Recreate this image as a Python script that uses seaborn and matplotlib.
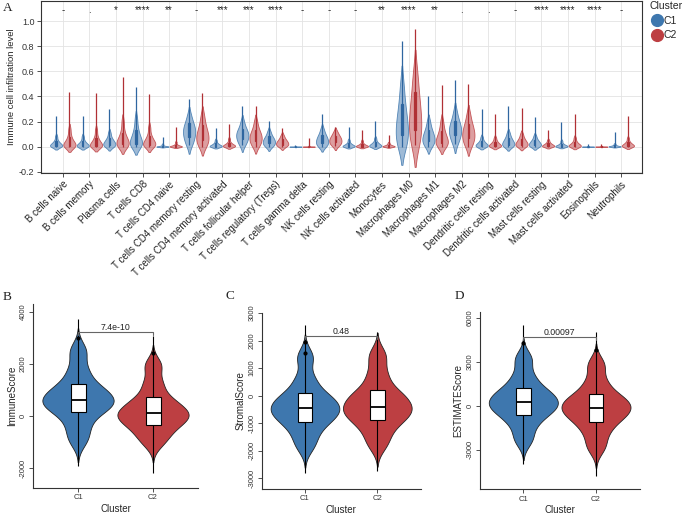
import numpy as np
import pandas as pd
import matplotlib
matplotlib.use("Agg")
import matplotlib.pyplot as plt
import matplotlib.colors as mcolors
from matplotlib.lines import Line2D
import seaborn as sns

# ---------------- data: panel A ----------------
cell_types = [
    "B cells naive", "B cells memory", "Plasma cells", "T cells CD8",
    "T cells CD4 naive", "T cells CD4 memory resting",
    "T cells CD4 memory activated", "T cells follicular helper",
    "T cells regulatory (Tregs)", "T cells gamma delta", "NK cells resting",
    "NK cells activated", "Monocytes", "Macrophages M0", "Macrophages M1",
    "Macrophages M2", "Dendritic cells resting", "Dendritic cells activated",
    "Mast cells resting", "Mast cells activated", "Eosinophils", "Neutrophils",
]
signif = ["-", ".", "*", "****", "**", "-", "***", "***", "****", "-", "-",
          "-", "**", "****", "**", ".", ".", "-", "****", "****", "****", "-"]

# bulk of each distribution (quantile-like values)
a_c1_bulk = [
    [0, 0, 0.003, 0.007, 0.012, 0.018, 0.025, 0.035, 0.05, 0.08],
    [0, 0, 0.002, 0.006, 0.01, 0.016, 0.024, 0.034, 0.05, 0.08],
    [0, 0.004, 0.01, 0.017, 0.025, 0.033, 0.043, 0.056, 0.075, 0.11],
    [0, 0.006, 0.016, 0.028, 0.042, 0.058, 0.08, 0.11, 0.15, 0.22],
    [0, 0, 0, 0, 0, 0, 0.002, 0.005, 0.01, 0.02],
    [0.01, 0.04, 0.07, 0.09, 0.11, 0.13, 0.15, 0.17, 0.2, 0.25],
    [0, 0, 0, 0.002, 0.005, 0.009, 0.014, 0.02, 0.03, 0.05],
    [0.01, 0.035, 0.055, 0.07, 0.085, 0.1, 0.115, 0.13, 0.155, 0.2],
    [0, 0.01, 0.02, 0.03, 0.04, 0.05, 0.06, 0.072, 0.09, 0.12],
    [0, 0, 0, 0, 0, 0, 0, 0, 0.001, 0.003],
    [0, 0.01, 0.022, 0.033, 0.045, 0.057, 0.07, 0.085, 0.105, 0.14],
    [0, 0, 0, 0.002, 0.005, 0.009, 0.014, 0.02, 0.03, 0.05],
    [0, 0, 0.002, 0.005, 0.009, 0.014, 0.02, 0.028, 0.04, 0.065],
    [0, 0.03, 0.07, 0.11, 0.15, 0.19, 0.24, 0.3, 0.38, 0.5],
    [0, 0.02, 0.035, 0.05, 0.065, 0.08, 0.1, 0.12, 0.15, 0.2],
    [0.02, 0.06, 0.085, 0.105, 0.125, 0.145, 0.165, 0.19, 0.22, 0.28],
    [0, 0, 0.003, 0.008, 0.013, 0.019, 0.026, 0.035, 0.05, 0.075],
    [0, 0.004, 0.011, 0.019, 0.028, 0.037, 0.048, 0.062, 0.08, 0.11],
    [0, 0.002, 0.008, 0.014, 0.021, 0.028, 0.036, 0.046, 0.06, 0.085],
    [0, 0, 0, 0.002, 0.004, 0.007, 0.011, 0.017, 0.026, 0.045],
    [0, 0, 0, 0, 0, 0, 0, 0, 0.001, 0.003],
    [0, 0, 0, 0, 0.001, 0.003, 0.005, 0.008, 0.013, 0.022],
]
a_c1_max = [0.245, 0.245, 0.297, 0.476, 0.08, 0.38, 0.147, 0.32, 0.208, 0.016,
            0.26, 0.155, 0.208, 0.84, 0.40, 0.53, 0.30, 0.32, 0.234, 0.2,
            0.02, 0.116]

a_c2_bulk = [
    [0, 0, 0.004, 0.01, 0.018, 0.028, 0.04, 0.06, 0.09, 0.14],
    [0, 0, 0.003, 0.008, 0.015, 0.025, 0.038, 0.055, 0.08, 0.13],
    [0, 0.005, 0.014, 0.024, 0.035, 0.048, 0.065, 0.09, 0.13, 0.2],
    [0, 0.004, 0.01, 0.018, 0.027, 0.037, 0.05, 0.068, 0.095, 0.15],
    [0, 0, 0, 0, 0, 0.002, 0.005, 0.01, 0.018, 0.035],
    [0, 0.02, 0.04, 0.06, 0.08, 0.1, 0.12, 0.15, 0.19, 0.25],
    [0, 0, 0.002, 0.004, 0.007, 0.011, 0.016, 0.023, 0.035, 0.06],
    [0, 0.02, 0.038, 0.055, 0.07, 0.085, 0.1, 0.12, 0.15, 0.2],
    [0, 0.006, 0.013, 0.02, 0.027, 0.035, 0.043, 0.053, 0.067, 0.09],
    [0, 0, 0, 0, 0, 0, 0, 0, 0.002, 0.006],
    [0.005, 0.018, 0.028, 0.038, 0.048, 0.058, 0.068, 0.08, 0.095, 0.12],
    [0, 0, 0, 0.002, 0.004, 0.007, 0.011, 0.017, 0.026, 0.045],
    [0, 0, 0, 0.001, 0.003, 0.005, 0.008, 0.012, 0.018, 0.03],
    [0.01, 0.06, 0.11, 0.16, 0.21, 0.26, 0.32, 0.39, 0.48, 0.6],
    [0, 0.01, 0.022, 0.035, 0.05, 0.065, 0.085, 0.11, 0.145, 0.2],
    [0, 0.03, 0.055, 0.075, 0.095, 0.115, 0.14, 0.165, 0.2, 0.26],
    [0, 0, 0.002, 0.006, 0.011, 0.017, 0.024, 0.033, 0.047, 0.07],
    [0, 0.004, 0.01, 0.017, 0.025, 0.033, 0.043, 0.055, 0.072, 0.1],
    [0, 0, 0.002, 0.005, 0.008, 0.012, 0.017, 0.023, 0.032, 0.05],
    [0, 0, 0.002, 0.005, 0.009, 0.014, 0.021, 0.03, 0.045, 0.07],
    [0, 0, 0, 0, 0, 0, 0, 0.001, 0.002, 0.004],
    [0, 0, 0.002, 0.005, 0.009, 0.014, 0.02, 0.028, 0.04, 0.065],
]
a_c2_max = [0.437, 0.424, 0.555, 0.418, 0.16, 0.43, 0.18, 0.324, 0.147, 0.068,
            0.16, 0.134, 0.095, 0.94, 0.49, 0.50, 0.26, 0.31, 0.134, 0.26,
            0.024, 0.247]

# ---------------- data: panels B-D ----------------
# bulk quantiles (violin body) and extreme values (whisker ends)
immune_c1 = [-900, -350, 140, 320, 480, 620, 780, 980, 1220, 1750, 2500]
immune_c2 = [-1000, -620, -350, -150, -10, 100, 260, 470, 720, 1250, 1950]
immune_ext_c1 = [-1930, 3730]
immune_ext_c2 = [-2190, 3060]
immune_out_c1 = [3000]
immune_out_c2 = [2420]

stromal_c1 = [-1800, -1300, -950, -760, -600, -450, -290, -100, 100, 600, 1400]
stromal_c2 = [-1750, -1250, -900, -720, -560, -400, -220, 0, 200, 750, 1450]
stromal_ext_c1 = [-2800, 2550]
stromal_ext_c2 = [-2750, 2300]
stromal_out_c1 = [1950, 1550]
stromal_out_c2 = []

estimate_c1 = [-2300, -1300, -650, -300, -20, 230, 520, 850, 1200, 2000, 3200]
estimate_c2 = [-2800, -1800, -1110, -700, -400, -140, 150, 450, 780, 1600, 2800]
estimate_ext_c1 = [-3950, 5470]
estimate_ext_c2 = [-4800, 5000]
estimate_out_c1 = [4300]
estimate_out_c2 = [3800]

p_values = ["7.4e-10", "0.48", "0.00097"]
clusters = ["C1", "C2"]

# ---------------- style ----------------
BLUE = "#3E77AE"
RED = "#BD3F42"
DARK = {"C1": "#2F66A0", "C2": "#B03035"}
PAL = {"C1": BLUE, "C2": RED}

sns.set_theme(style="white")
plt.rcParams["font.family"] = ["Liberation Sans", "DejaVu Sans"]
plt.rcParams["axes.unicode_minus"] = False

W, H = 685, 515
fig = plt.figure(figsize=(W / 100, H / 100), dpi=100)


def rect(l, r, t, b):
    return [l / W, 1 - b / H, (r - l) / W, (b - t) / H]


# ---------------- panel A ----------------
rows = []
for i, ct in enumerate(cell_types):
    for cl, bulk, mx in (("C1", a_c1_bulk[i], a_c1_max[i]),
                         ("C2", a_c2_bulk[i], a_c2_max[i])):
        for v in bulk:
            rows.append((ct, cl, v, "bulk"))
        rows.append((ct, cl, mx, "tail"))
dfA = pd.DataFrame(rows, columns=["cell", "Cluster", "value", "part"])

axA = fig.add_axes(rect(40.7, 642, 1, 173))
for cl in clusters:
    sub = dfA[dfA.Cluster == cl]
    n0 = len(axA.collections)
    sns.violinplot(data=sub[sub.part == "bulk"], x="cell", y="value",
                   hue="Cluster", hue_order=clusters, order=cell_types,
                   palette=PAL, dodge=True, width=1.0, gap=0.08,
                   density_norm="width", cut=1.6, bw_adjust=0.9, inner=None,
                   linecolor=PAL[cl], linewidth=0.6, saturation=1,
                   legend=False, ax=axA)
    for coll in axA.collections[n0:]:
        coll.set_facecolor(mcolors.to_rgba(PAL[cl], 0.5))
        coll.set_edgecolor(mcolors.to_rgba(PAL[cl], 0.85))
    sns.boxplot(data=sub, x="cell", y="value", hue="Cluster",
                hue_order=clusters, order=cell_types,
                palette={"C1": DARK["C1"], "C2": DARK["C2"]}, dodge=True,
                width=1.0, gap=0.9, whis=(0, 100), showfliers=False,
                showcaps=False, linecolor=DARK[cl], linewidth=0.9,
                saturation=1, legend=False, ax=axA)

axA.set_xlim(-0.83, 21.78)
axA.set_ylim(-0.21, 1.16)
yt = [-0.2, 0.0, 0.2, 0.4, 0.6, 0.8, 1.0]
axA.set_yticks(yt)
axA.set_yticklabels([f"{v:.1f}" for v in yt], fontsize=6.5, color="#333333")
axA.set_xticks(range(len(cell_types)))
axA.set_xticklabels(cell_types, rotation=45, ha="right",
                    rotation_mode="anchor", fontsize=7, color="#222222")
axA.set_xlabel("")
axA.set_ylabel("Immune cell infiltration level", fontsize=6.8, labelpad=2)
axA.grid(True, color="#E3E3E3", lw=0.6)
axA.set_axisbelow(True)
for s in axA.spines.values():
    s.set_visible(True)
    s.set_color("#333333")
    s.set_linewidth(0.8)
axA.tick_params(axis="both", which="major", length=3, width=0.6,
                direction="out", bottom=True, left=True, pad=1.5,
                color="#333333")
for i, s in enumerate(signif):
    axA.text(i, 1.09, s, ha="center", va="center", fontsize=7, color="#222222")

handles = [Line2D([], [], marker="o", ls="", color=PAL[c], markersize=8.5,
                  label=c) for c in clusters]
fig.legend(handles=handles, title="Cluster", loc="upper left",
           bbox_to_anchor=(643 / W, 1.01), frameon=False, fontsize=7.5,
           title_fontsize=7.5, handletextpad=0.0, labelspacing=0.45,
           borderaxespad=0.2, alignment="left", handlelength=1.4)


# ---------------- panels B-D ----------------
def score_panel(ax, c1, c2, e1, e2, o1, o2, ylab, ylim, yticks, ptext, py,
                tick):
    df = pd.DataFrame({"Cluster": ["C1"] * len(c1) + ["C2"] * len(c2),
                       "score": c1 + c2})
    sns.violinplot(data=df, x="Cluster", y="score", hue="Cluster",
                   order=clusters, hue_order=clusters, palette=PAL, cut=2.5,
                   bw_adjust=0.6, inner=None, linecolor="#222222",
                   linewidth=0.6, width=0.95, saturation=1, legend=False,
                   ax=ax)
    full = pd.DataFrame({"Cluster": ["C1"] * (len(c1) + len(e1)) +
                         ["C2"] * (len(c2) + len(e2)),
                         "score": c1 + e1 + c2 + e2})
    sns.boxplot(data=full, x="Cluster", y="score", order=clusters,
                color="white", width=0.2, whis=(0, 100), showcaps=False,
                showfliers=False, linecolor="black", linewidth=0.8,
                saturation=1, medianprops=dict(linewidth=1.3), ax=ax)
    odf = pd.DataFrame({"Cluster": ["C1"] * len(o1) + ["C2"] * len(o2),
                        "score": o1 + o2})
    if len(odf):
        sns.stripplot(data=odf, x="Cluster", y="score", order=clusters,
                      color="black", size=3, jitter=False, ax=ax)
    ax.plot([0, 0, 1, 1], [py - tick, py, py, py - tick], color="#666666",
            lw=0.8)
    ax.text(0.5, py, ptext, ha="center", va="bottom", fontsize=6.3,
            color="#222222")
    ax.set_xlim(-0.6, 1.6)
    ax.set_ylim(*ylim)
    ax.set_yticks(yticks)
    ax.set_yticklabels([str(t) for t in yticks], rotation=90, va="center",
                       fontsize=5.5, color="#333333")
    ax.set_xticks([0, 1])
    ax.set_xticklabels(clusters, fontsize=5.5, color="#333333")
    ax.set_xlabel("Cluster", fontsize=7, labelpad=2)
    ax.set_ylabel(ylab, fontsize=7, labelpad=2)
    sns.despine(ax=ax)
    for s in ("left", "bottom"):
        ax.spines[s].set_color("#333333")
        ax.spines[s].set_linewidth(0.8)
    ax.tick_params(axis="both", length=3, width=0.6, direction="out",
                   bottom=True, left=True, pad=1.5, color="#333333")


axB = fig.add_axes(rect(33, 198, 304, 487.5))
score_panel(axB, immune_c1, immune_c2, immune_ext_c1, immune_ext_c2,
            immune_out_c1, immune_out_c2, "ImmuneScore", (-2750, 4308),
            [-2000, 0, 2000, 4000], p_values[0], 3250, 120)
axC = fig.add_axes(rect(261.6, 420.7, 312.7, 489))
score_panel(axC, stromal_c1, stromal_c2, stromal_ext_c1, stromal_ext_c2,
            stromal_out_c1, stromal_out_c2, "StromalScore", (-3400, 3015),
            [-3000, -2000, -1000, 0, 1000, 2000, 3000],
            p_values[1], 2150, 80)
axD = fig.add_axes(rect(479.7, 639.6, 312.3, 489.3))
score_panel(axD, estimate_c1, estimate_c2, estimate_ext_c1, estimate_ext_c2,
            estimate_out_c1, estimate_out_c2, "ESTIMATEScore", (-5700, 6368),
            [-3000, 0, 3000, 6000], p_values[2], 4660, 150)

serif = ["Liberation Serif", "DejaVu Serif"]
for lab, x, y in (("A", 3, 8), ("B", 3, 297), ("C", 226, 296), ("D", 455, 296)):
    fig.text(x / W, 1 - y / H, lab, family=serif, fontsize=9.5, va="center",
             ha="left", color="#222222")

fig.savefig("out.png", dpi=100)
